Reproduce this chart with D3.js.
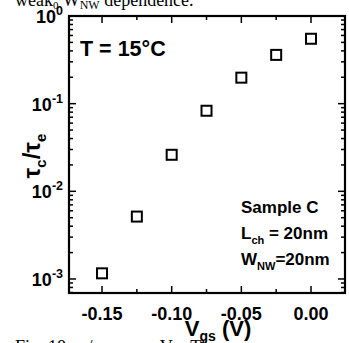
<!DOCTYPE html>
<html>
<head>
<meta charset="utf-8">
<script src="https://cdn.jsdelivr.net/npm/d3@7"></script>
<style>
  body { margin: 0; background: #fff; }
  svg { display: block; }
  text { font-family: "Liberation Sans", Arial, sans-serif; font-weight: bold; fill: #000; }
  .serif { font-family: "Liberation Serif", "Times New Roman", serif; font-weight: normal; }
</style>
</head>
<body>
<svg id="chart" width="349" height="343"></svg>
<script>
// data
var vgs = [-0.15, -0.125, -0.10, -0.075, -0.05, -0.025, 0.00];
var ratio = [0.00116, 0.00515, 0.0261, 0.083, 0.198, 0.36, 0.55];
var xTicks = [-0.15, -0.10, -0.05, 0.00];
var xTickLabels = ["-0.15", "-0.10", "-0.05", "0.00"];
var yDecades = [-3, -2, -1, 0];

var svg = d3.select("#chart");
// plot box (note: "top" is taken by window.top)
var pLeft = 69, pRight = 345, pTop = 16, pBottom = 293;

var x = d3.scaleLinear().domain([-0.1737, 0.0244]).range([pLeft, pRight]);
var y = d3.scaleLog().domain([Math.pow(10, -3.16), 1]).range([pBottom, pTop]);

// minor tick values
var yMinor = [];
for (var e = -4; e <= 0; e++) {
  for (var m = 2; m <= 9; m++) {
    var v = m * Math.pow(10, e);
    if (v >= y.domain()[0] && v <= 1) yMinor.push(v);
  }
}
var xMinor = [-0.175, -0.125, -0.075, -0.025, 0.025].filter(function(v) {
  return v >= x.domain()[0] && v <= x.domain()[1];
});

var g = svg.append("g");

// ticks: left / right pointing inward
function yTickMarks(vals, len) {
  vals.forEach(function(v) {
    g.append("line").attr("x1", pLeft).attr("x2", pLeft + len)
      .attr("y1", y(v)).attr("y2", y(v)).attr("stroke", "#000").attr("stroke-width", 1.5);
    g.append("line").attr("x1", pRight).attr("x2", pRight - len)
      .attr("y1", y(v)).attr("y2", y(v)).attr("stroke", "#000").attr("stroke-width", 1.5);
  });
}
yTickMarks(yMinor, 4);
yTickMarks(yDecades.map(function(d) { return Math.pow(10, d); }), 7);

function xTickMarks(vals, len) {
  vals.forEach(function(v) {
    g.append("line").attr("x1", x(v)).attr("x2", x(v))
      .attr("y1", pBottom).attr("y2", pBottom - len).attr("stroke", "#000").attr("stroke-width", 1.5);
    g.append("line").attr("x1", x(v)).attr("x2", x(v))
      .attr("y1", pTop).attr("y2", pTop + len).attr("stroke", "#000").attr("stroke-width", 1.5);
  });
}
xTickMarks(xMinor, 4);
xTickMarks(xTicks, 7);

// frame
g.append("rect").attr("x", pLeft).attr("y", pTop)
  .attr("width", pRight - pLeft).attr("height", pBottom - pTop)
  .attr("fill", "none").attr("stroke", "#000").attr("stroke-width", 2.2);

// x tick labels
xTicks.forEach(function(v, i) {
  g.append("text").attr("x", x(v)).attr("y", 320)
    .attr("text-anchor", "middle").attr("font-size", 18).text(xTickLabels[i]);
});

// y tick labels 10^n
yDecades.forEach(function(d) {
  var t = g.append("text").attr("x", 63).attr("y", y(Math.pow(10, d)) + 7)
    .attr("text-anchor", "end").attr("font-size", 18);
  t.append("tspan").text("10");
  t.append("tspan").attr("dy", -8).attr("font-size", 12.5).text(String(d));
});

// axis titles
var xt = g.append("text").attr("x", 218).attr("y", 336)
  .attr("text-anchor", "middle").attr("font-size", 22);
xt.append("tspan").text("V");
xt.append("tspan").attr("dy", 5).attr("font-size", 14).text("gs");
xt.append("tspan").attr("dy", -5).text(" (V)");

var yt = g.append("text").attr("transform", "translate(40,156) rotate(-90)")
  .attr("text-anchor", "middle").attr("font-size", 24);
yt.append("tspan").text("\u03c4");
yt.append("tspan").attr("dy", 6).attr("font-size", 15).text("c");
yt.append("tspan").attr("dy", -6).text("/\u03c4");
yt.append("tspan").attr("dy", 6).attr("font-size", 15).text("e");

// annotations
g.append("text").attr("x", 80).attr("y", 56).attr("font-size", 21.5).text("T = 15\u00b0C");

g.append("text").attr("x", 241).attr("y", 213).attr("font-size", 17).text("Sample C");
var l1 = g.append("text").attr("x", 241).attr("y", 239).attr("font-size", 17);
l1.append("tspan").text("L");
l1.append("tspan").attr("dy", 5).attr("font-size", 11).text("ch");
l1.append("tspan").attr("dy", -5).text(" = 20nm");
var l2 = g.append("text").attr("x", 241).attr("y", 265).attr("font-size", 17);
l2.append("tspan").text("W");
l2.append("tspan").attr("dy", 5).attr("font-size", 11).text("NW");
l2.append("tspan").attr("dy", -5).text("=20nm");

// data markers
g.selectAll("rect.pt").data(vgs).enter().append("rect")
  .attr("class", "pt")
  .attr("x", function(d) { return x(d) - 5; })
  .attr("y", function(d, i) { return y(ratio[i]) - 5; })
  .attr("width", 10).attr("height", 10)
  .attr("fill", "#fff").attr("stroke", "#000").attr("stroke-width", 2);

// cropped page text above and below the figure
var tt = g.append("text").attr("class", "serif").attr("x", 15).attr("y", 6).attr("font-size", 18);
tt.append("tspan").text("weak");
tt.append("tspan").attr("dy", 3).attr("font-size", 11).text("0");
tt.append("tspan").attr("dy", -3).text(" W");
tt.append("tspan").attr("dy", 3).attr("font-size", 12).text("NW");
tt.append("tspan").attr("dy", -3).text(" dependence.");

var bt = g.append("text").attr("class", "serif").attr("x", 15).attr("y", 353).attr("font-size", 18);
bt.append("tspan").text("Fig. 18.  \u03c4");
bt.append("tspan").attr("font-size", 12).text("c");
bt.append("tspan").text("/\u03c4");
bt.append("tspan").attr("font-size", 12).text("e");
bt.append("tspan").text("  versus  V");
bt.append("tspan").attr("font-size", 12).text("G");
bt.append("tspan").text(". The");
</script>
</body>
</html>
